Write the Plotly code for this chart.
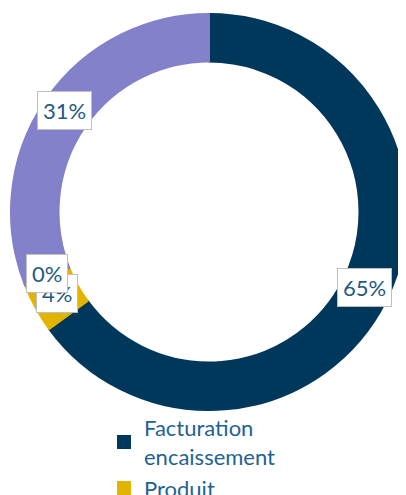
import math
import plotly.graph_objects as go

categories = ["Facturation<br>encaissement", "Produit", "Livraison", "Autres"]
values = [65, 4, 0.1, 31]
colors = ["#00385C", "#E2B400", "#8A7FC0", "#8281C9"]

# page body adds an 8px offset; figure is taller than the window so the
# legend is clipped by the window edge like in the reference
W, H = 406, 570
cx_px, cy_px, R_px = 201, 204, 198   # donut centre / radius in figure px
dom_x = [(cx_px - R_px) / W, (cx_px + R_px) / W]
dom_y = [(H - cy_px - R_px) / H, (H - cy_px + R_px) / H]
hole = 0.76

fig = go.Figure(go.Pie(
    labels=categories, values=values, sort=False, direction="clockwise",
    rotation=0, hole=hole, textinfo="none", hoverinfo="label+percent",
    marker=dict(colors=colors, line=dict(width=2, color=colors)),
    domain=dict(x=dom_x, y=dom_y),
))

# label positions derived from slice mid-angles
r_lab = R_px * (1 + hole) / 2
total = sum(values)
cum = 0
annotations = []
for v in values:
    mid = (cum + v / 2) / total * 2 * math.pi
    cum += v
    x = cx_px + r_lab * math.sin(mid)
    y = cy_px - r_lab * math.cos(mid) - 3
    annotations.append(dict(
        x=x / W, y=1 - y / H, xref="paper", yref="paper",
        xanchor="center", yanchor="middle",
        text=f"{round(v / total * 100)}%", showarrow=False,
        font=dict(family="Lato", size=22, color="#1F5A85"),
        bgcolor="white", bordercolor="#BFBFBF", borderwidth=1, borderpad=5,
    ))

fig.update_layout(
    width=W, height=H, margin=dict(l=0, r=0, t=0, b=0),
    paper_bgcolor="white", plot_bgcolor="white",
    annotations=annotations,
    showlegend=True,
    legend=dict(x=96 / W, y=1 - 399 / H, xanchor="left", yanchor="top",
                font=dict(family="Lato", size=22, color="#1F6391"),
                bgcolor="rgba(0,0,0,0)", itemwidth=30, tracegroupgap=0),
)
fig.write_html("out.html")
